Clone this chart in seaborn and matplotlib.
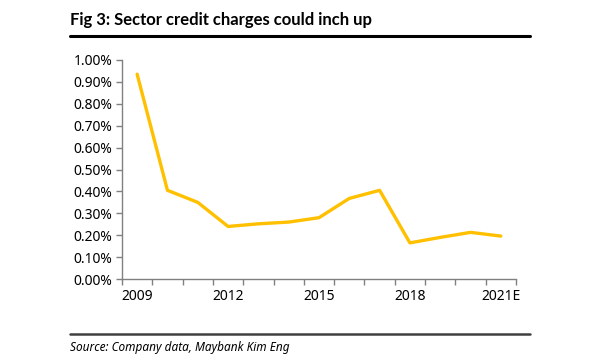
import matplotlib
matplotlib.use("Agg")
import matplotlib.pyplot as plt
import seaborn as sns
import pandas as pd
from matplotlib.ticker import FixedLocator, FuncFormatter
from matplotlib.lines import Line2D

years = ["2009", "2010", "2011", "2012", "2013", "2014", "2015",
         "2016", "2017", "2018", "2019", "2020", "2021E"]
credit_charges = [0.935, 0.405, 0.35, 0.24, 0.252, 0.26, 0.28,
                  0.368, 0.405, 0.165, 0.19, 0.213, 0.196]
y_ticks = [0.0, 0.1, 0.2, 0.3, 0.4, 0.5, 0.6, 0.7, 0.8, 0.9, 1.0]
shown_labels = ["2009", "2012", "2015", "2018", "2021E"]

title = "Fig 3: Sector credit charges could inch up"
source = "Source: Company data, Maybank Kim Eng"

sns.set_theme(style="white")
plt.rcParams['font.family'] = ['Noto Sans', 'DejaVu Sans']

df = pd.DataFrame({"year": years, "value": credit_charges})
df["pos"] = range(len(df))

fig = plt.figure(figsize=(6.0, 3.61), dpi=100)
ax = fig.add_axes([0.2033, 0.2271, 0.6567, 0.6067])

sns.lineplot(data=df, x="pos", y="value", ax=ax, color="#FFC000",
             linewidth=2.4, legend=False)

ax.set_xlim(-0.5, len(years) - 0.5)
ax.set_ylim(0, 1.0)
ax.set_yticks(y_ticks)
ax.yaxis.set_major_formatter(FuncFormatter(lambda v, p: f"{v:.2f}%"))

label_pos = [years.index(l) for l in shown_labels]
ax.set_xticks(label_pos)
ax.set_xticklabels(shown_labels)
ax.xaxis.set_minor_locator(FixedLocator([i - 0.5 for i in range(len(years) + 1)]))
ax.tick_params(axis="x", which="major", length=0, pad=7, labelsize=10, colors="black")
ax.tick_params(axis="x", which="minor", length=4, width=1, color="#808080", direction="out")
ax.tick_params(axis="y", which="major", length=4, width=1, color="#808080", direction="out",
               labelsize=10, labelcolor="black", pad=3)
ax.tick_params(axis="x", which="both", bottom=True)
ax.tick_params(axis="y", left=True)

for s in ["top", "right"]:
    ax.spines[s].set_visible(False)
for s in ["left", "bottom"]:
    ax.spines[s].set_color("#808080")
    ax.spines[s].set_linewidth(1)
ax.set_xlabel("")
ax.set_ylabel("")
ax.grid(False)

fig.text(70 / 600, 1 - 20 / 361, title, fontsize=12, fontweight="bold",
         family=["Lato", "DejaVu Sans"],
         ha="left", va="center", color="black")
fig.add_artist(Line2D([70 / 600, 530 / 600], [1 - 36 / 361, 1 - 36 / 361],
                      color="black", linewidth=2.2, transform=fig.transFigure))
fig.add_artist(Line2D([70 / 600, 530 / 600], [1 - 333.5 / 361, 1 - 333.5 / 361],
                      color="#404040", linewidth=1.8, transform=fig.transFigure))
fig.text(70 / 600, 1 - 347 / 361, source, fontsize=8.5, fontstyle="italic",
         ha="left", va="center", color="black")

fig.savefig("out.png", dpi=100)
